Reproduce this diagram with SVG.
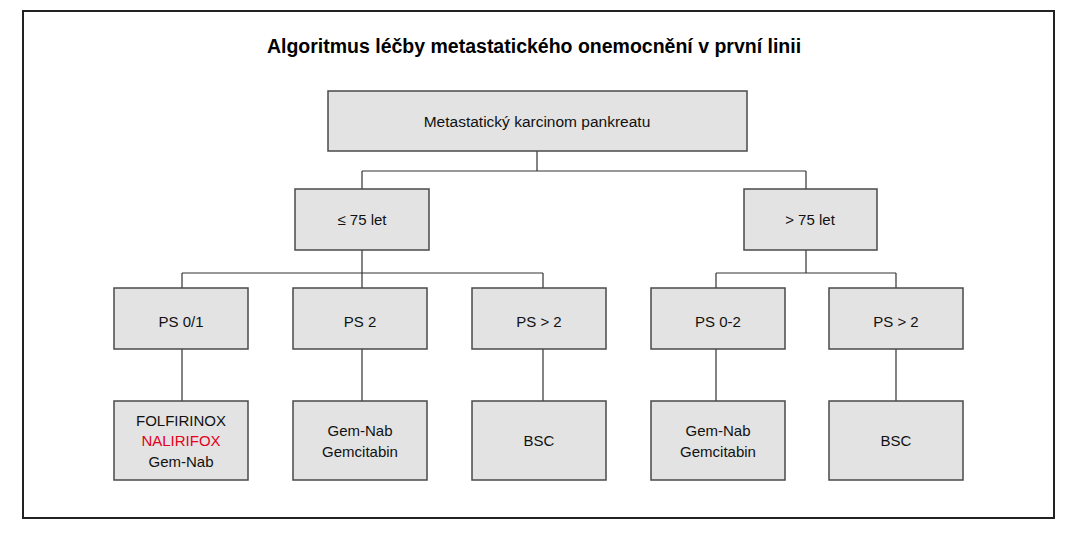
<svg xmlns="http://www.w3.org/2000/svg" width="1078" height="534" viewBox="0 0 1078 534">
<style>
.box{fill:#e3e3e3;stroke:#4a4a4a;stroke-width:1.5}
.t{font-family:"Liberation Sans",Arial,sans-serif;font-size:15px;fill:#111;text-anchor:middle}
.title{font-family:"Liberation Sans",Arial,sans-serif;font-size:19.5px;font-weight:bold;fill:#000;text-anchor:middle}
.c{fill:none;stroke:#333;stroke-width:1.2}
</style>
<rect x="0" y="0" width="1078" height="534" fill="#fff"/>
<rect x="23" y="11" width="1031" height="507" fill="#fff" stroke="#222" stroke-width="2"/>
<text class="title" x="534" y="53">Algoritmus léčby metastatického onemocnění v první linii</text>
<g id="connectors">
<path class="c" d="M537 151V171M362 171H806M362 171V189M806 171V189"/>
<path class="c" d="M362 250V273M182 273H543M182 273V288M362 273V288M543 273V288"/>
<path class="c" d="M806 250V273M716 273H896M716 273V288M896 273V288"/>
<path class="c" d="M182 349V401M362 349V401M543 349V401M716 349V401M896 349V401"/>
</g>
<g id="root"><rect class="box" x="328" y="91" width="419" height="60"/><text class="t" x="537" y="127" style="font-size:15.5px">Metastatický karcinom pankreatu</text></g>
<g id="le75"><rect class="box" x="295" y="189" width="134" height="61"/><text class="t" x="362" y="225">≤ 75 let</text></g>
<g id="gt75"><rect class="box" x="744" y="189" width="133" height="61"/><text class="t" x="810" y="225">&gt; 75 let</text></g>
<g id="ps01"><rect class="box" x="114" y="288" width="134" height="61"/><text class="t" x="181" y="327">PS 0/1</text></g>
<g id="ps2"><rect class="box" x="293" y="288" width="134" height="61"/><text class="t" x="360" y="327">PS 2</text></g>
<g id="psgt2a"><rect class="box" x="472" y="288" width="134" height="61"/><text class="t" x="539" y="327">PS &gt; 2</text></g>
<g id="ps02"><rect class="box" x="651" y="288" width="134" height="61"/><text class="t" x="718" y="327">PS 0-2</text></g>
<g id="psgt2b"><rect class="box" x="829" y="288" width="134" height="61"/><text class="t" x="896" y="327">PS &gt; 2</text></g>
<g id="leaf1"><rect class="box" x="114" y="401" width="134" height="79"/><text class="t" x="181" y="426">FOLFIRINOX</text><text class="t" x="181" y="446" style="fill:#e3001b">NALIRIFOX</text><text class="t" x="181" y="467">Gem-Nab</text></g>
<g id="leaf2"><rect class="box" x="293" y="401" width="134" height="79"/><text class="t" x="360" y="436">Gem-Nab</text><text class="t" x="360" y="457">Gemcitabin</text></g>
<g id="leaf3"><rect class="box" x="472" y="401" width="134" height="79"/><text class="t" x="539" y="446">BSC</text></g>
<g id="leaf4"><rect class="box" x="651" y="401" width="134" height="79"/><text class="t" x="718" y="436">Gem-Nab</text><text class="t" x="718" y="457">Gemcitabin</text></g>
<g id="leaf5"><rect class="box" x="829" y="401" width="134" height="79"/><text class="t" x="896" y="446">BSC</text></g>
</svg>
